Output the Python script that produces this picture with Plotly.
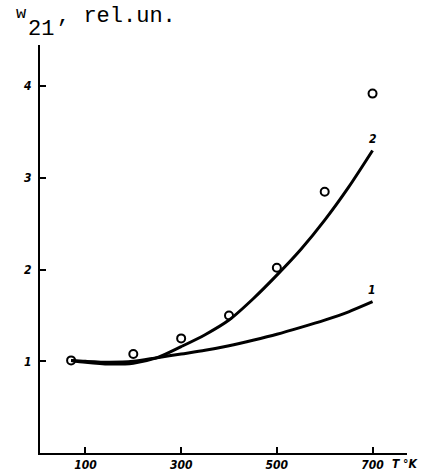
import plotly.graph_objects as go

# Experimental points
pts_T = [70, 200, 300, 400, 500, 600, 700]
pts_w = [1.01, 1.08, 1.25, 1.50, 2.02, 2.85, 3.92]

# Curve 1
c1_T = [70, 100, 150, 200, 250, 300, 350, 400, 450, 500, 550, 600, 650, 700]
c1_w = [1.01, 1.00, 0.99, 1.00, 1.04, 1.08, 1.12, 1.17, 1.23, 1.295, 1.37, 1.45, 1.54, 1.65]

# Curve 2
c2_T = [70, 100, 150, 200, 250, 300, 350, 400, 450, 500, 550, 600, 650, 700]
c2_w = [1.01, 0.99, 0.97, 0.98, 1.04, 1.16, 1.29, 1.45, 1.68, 1.94, 2.22, 2.54, 2.90, 3.30]

x_ticks = [100, 300, 500, 700]
x_tick_labels = ["100", "300", "500", "700"]
y_ticks = [1, 2, 3, 4]
y_tick_labels = ["1", "2", "3", "4"]

tickfont = dict(family="DejaVu Sans Condensed, DejaVu Sans", size=12, color="black",
                style="italic", weight="bold")

fig = go.Figure()
for cx, cy in [(c1_T, c1_w), (c2_T, c2_w)]:
    fig.add_trace(go.Scatter(x=cx, y=cy, mode="lines",
                             line=dict(color="black", width=3, shape="spline", smoothing=0.8),
                             showlegend=False, hoverinfo="skip"))
fig.add_trace(go.Scatter(x=pts_T, y=pts_w, mode="markers",
                         marker=dict(symbol="circle-open", size=8, color="black", line=dict(width=2)),
                         showlegend=False, hoverinfo="skip"))

fig.add_annotation(x=701, y=3.43, text="2", showarrow=False, font=tickfont)
fig.add_annotation(x=699, y=1.78, text="1", showarrow=False, font=tickfont)

fig.update_layout(
    width=430, height=472,
    margin=dict(l=40, r=23, t=45, b=19, autoexpand=False),
    paper_bgcolor="white", plot_bgcolor="white",
    xaxis=dict(range=[5, 772], tickvals=x_ticks, ticktext=x_tick_labels,
               showgrid=False, zeroline=False, showline=True, linecolor="black", linewidth=2,
               ticks="inside", ticklen=6, tickwidth=1.5, tickcolor="black", tickfont=tickfont,
               ticklabelstandoff=0),
    yaxis=dict(range=[0, 4.45], tickvals=y_ticks, ticktext=y_tick_labels,
               showgrid=False, zeroline=False, showline=True, linecolor="black", linewidth=2,
               ticks="inside", ticklen=6, tickwidth=1.5, tickcolor="black", tickfont=tickfont,
               ticklabelstandoff=4),
)

mono = "Liberation Mono, DejaVu Sans Mono, monospace"
fig.add_annotation(xref="paper", yref="paper", x=-0.072, y=1.078, xanchor="left", yanchor="middle",
                   text="w", showarrow=False, font=dict(family=mono, size=17, color="black"))
fig.add_annotation(xref="paper", yref="paper", x=-0.038, y=1.039, xanchor="left", yanchor="middle",
                   text="21", showarrow=False, font=dict(family=mono, size=22, color="black"))
fig.add_annotation(xref="paper", yref="paper", x=0.041, y=1.071, xanchor="left", yanchor="middle",
                   text=", rel.un.", showarrow=False, font=dict(family=mono, size=22, color="black"))
fig.add_annotation(xref="paper", yref="paper", x=0.995, y=-0.027, xanchor="center", yanchor="middle",
                   text="T °K", showarrow=False, font=tickfont)

fig.write_html("out.html", config={"displayModeBar": False},
               post_script="document.body.style.margin='0';document.body.style.padding='0';")
